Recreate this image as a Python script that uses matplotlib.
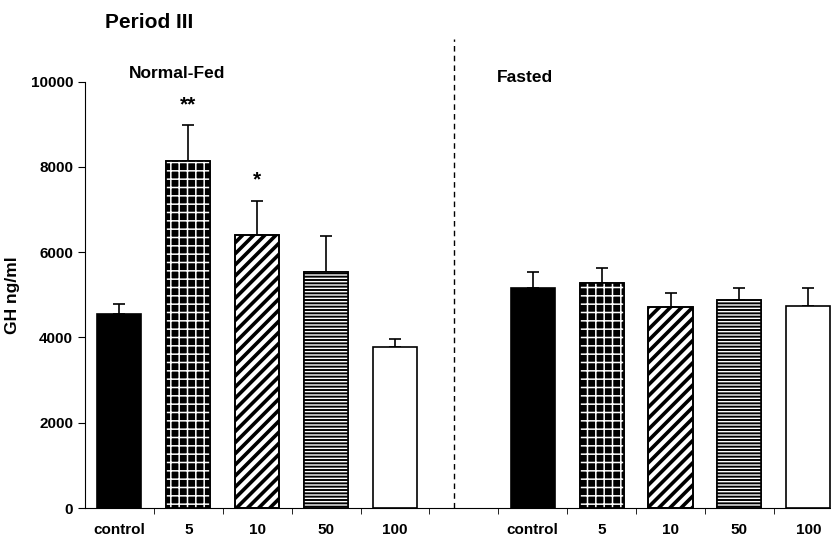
import numpy as np
import matplotlib
matplotlib.use('Agg')
import matplotlib.pyplot as plt

plt.rcParams['font.family'] = ['DejaVu Sans Condensed', 'Liberation Sans', 'DejaVu Sans']
plt.rcParams['font.weight'] = 'bold'
plt.rcParams['axes.labelweight'] = 'bold'

# Data
doses = ['control', '5', '10', '50', '100']
fed_mean = [4550, 8130, 6400, 5540, 3780]
fed_top = [4790, 8980, 7210, 6385, 3970]      # top of error bar
fasted_mean = [5150, 5275, 4725, 4875, 4740]
fasted_top = [5540, 5620, 5050, 5170, 5150]
stars = ['', '**', '*', '', '']

# bar styles per dose: face, hatch, hatch colour, hatch line width
styles = [('black', None, None, 0),
          ('black', '++', 'white', 1.1),
          ('white', '///', 'black', 2.6),
          ('black', '-----', 'white', 1.0),
          ('white', None, None, 0)]

fig = plt.figure(figsize=(8.31, 5.42), dpi=100)
ax = fig.add_axes([85 / 831, 1 - 508 / 542, 1 - 85 / 831, (508 - 81.7) / 542])

width = 0.64
for g, (means, tops) in enumerate([(fed_mean, fed_top), (fasted_mean, fasted_top)]):
    x0 = 6 * g
    for i in range(len(doses)):
        x = x0 + i
        face, hatch, hcol, hlw = styles[i]
        ax.bar(x, means[i], width, color=face, edgecolor='black', linewidth=1.2, zorder=2)
        if hatch:
            with plt.rc_context({'hatch.linewidth': hlw}):
                ax.bar(x, means[i], width, color='none', edgecolor=hcol, hatch=hatch,
                       linewidth=0, zorder=3)
            ax.bar(x, means[i], width, color='none', edgecolor='black', linewidth=1.2, zorder=4)
        err = tops[i] - means[i]
        ax.errorbar(x, means[i], yerr=[[0], [err]], fmt='none', ecolor='black',
                    elinewidth=1.2, capsize=4.5, capthick=1.2, zorder=1)
        if g == 0 and stars[i]:
            ax.text(x, tops[i] + 480, stars[i], ha='center', va='center', fontsize=15)

# separator between groups
ax.plot([4.85, 4.85], [0, 11000], color='black', linestyle=(0, (4, 3)),
        linewidth=1, clip_on=False)

ax.set_xlim(-0.5, 10.33)
ax.set_ylim(0, 10000)
ax.set_yticks(np.arange(0, 10001, 2000))
ax.set_xticks([0, 1, 2, 3, 4, 6, 7, 8, 9, 10])
ax.set_xticklabels(doses + doses)
ax.set_xticks(np.arange(0.5, 10.5, 1), minor=True)
ax.tick_params(axis='x', which='major', length=0, pad=11, labelsize=11)
ax.tick_params(axis='x', which='minor', length=4, direction='out')
ax.tick_params(axis='y', length=5, direction='out', labelsize=11)
for s in ['top', 'right']:
    ax.spines[s].set_visible(False)
for s in ['left', 'bottom']:
    ax.spines[s].set_linewidth(0.8)

ax.set_ylabel('GH ng/ml', fontsize=12.5, fontweight='bold')
ax.yaxis.set_label_coords(-0.087, 0.5)
fig.text(105 / 831, 1 - 22 / 542, 'Period III', fontsize=15, va='center', ha='left')
fig.text(129 / 831, 1 - 74 / 542, 'Normal-Fed', fontsize=12.5, va='center', ha='left')
fig.text(497 / 831, 1 - 78 / 542, 'Fasted', fontsize=12.5, va='center', ha='left')

fig.savefig('out.png', dpi=100)
